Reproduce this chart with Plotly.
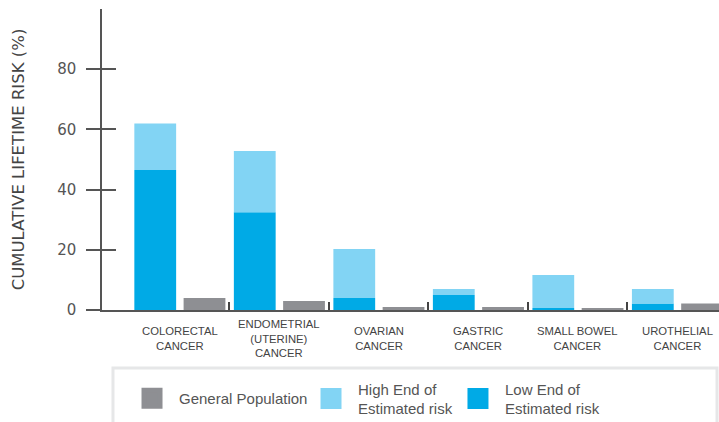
import plotly.graph_objects as go

categories = ["COLORECTAL<br>CANCER", "ENDOMETRIAL<br>(UTERINE)<br>CANCER", "OVARIAN<br>CANCER",
              "GASTRIC<br>CANCER", "SMALL BOWEL<br>CANCER", "UROTHELIAL<br>CANCER"]
low_end = [46.5, 32.5, 4.0, 5.0, 0.7, 2.2]
high_end = [62.0, 52.8, 20.3, 7.0, 11.6, 7.0]
general_population = [4.0, 3.0, 1.0, 1.0, 0.6, 2.2]
y_ticks = [0, 20, 40, 60, 80]
legend_names = ["General Population", "High End of<br>Estimated risk", "Low End of<br>Estimated risk"]

GRAY = "#8E8F93"
LIGHT = "#82D4F4"
DARK = "#00AAE6"
FONT = "Liberation Sans, Arial, sans-serif"

idx = list(range(len(categories)))
bw = 0.42

fig = go.Figure()
fig.add_trace(go.Bar(x=idx, y=low_end, width=bw, offset=-0.455, marker=dict(color=DARK, line=dict(width=0)),
                     showlegend=False, hoverinfo="skip"))
fig.add_trace(go.Bar(x=idx, y=[h - l for h, l in zip(high_end, low_end)], base=low_end, width=bw, offset=-0.455,
                     marker=dict(color=LIGHT, line=dict(width=0)), showlegend=False, hoverinfo="skip"))
fig.add_trace(go.Bar(x=idx, y=general_population, width=bw, offset=0.04, marker=dict(color=GRAY, line=dict(width=0)),
                     showlegend=False, hoverinfo="skip"))

legend_ids = ["legend", "legend2", "legend3"]
for name, col, lid in zip(legend_names, [GRAY, LIGHT, DARK], legend_ids):
    fig.add_trace(go.Scatter(x=[None], y=[None], mode="markers", name=name, yaxis="y2", legend=lid,
                             marker=dict(symbol="square", size=16, color=col, line=dict(color=col, width=5))))

for i, cat in enumerate(categories):
    fig.add_annotation(x=i, y=-0.095, xref="x", yref="paper", text=cat, showarrow=False,
                       xanchor="center", yanchor="middle",
                       font=dict(family=FONT, size=11.3, color="#444444"))

fig.add_shape(type="rect", xref="paper", yref="paper", x0=0.0178, x1=0.9968, y0=-0.1927, y1=-0.45,
              line=dict(color="#E6E7E8", width=3), fillcolor="rgba(0,0,0,0)", layer="above")

leg_common = dict(orientation="h", xanchor="left", yanchor="middle", y=-0.294,
                  bgcolor="rgba(0,0,0,0)", borderwidth=0, itemwidth=44,
                  font=dict(family=FONT, size=15, color="#555555"), itemsizing="trace")

fig.update_layout(
    width=719, height=422,
    margin=dict(l=102, r=0, t=9, b=112, autoexpand=False),
    paper_bgcolor="white", plot_bgcolor="white",
    barmode="overlay",
    font=dict(family=FONT, color="#555555"),
    xaxis=dict(range=[-0.78, 5.42], showgrid=False, zeroline=False, showticklabels=False,
               showline=True, linecolor="#555555", linewidth=2, ticks="",
               minor=dict(ticks="inside", tickvals=[i + 0.5 for i in idx[:-1]], ticklen=8,
                          tickcolor="#444444", tickwidth=1.5)),
    yaxis=dict(range=[0, 100], showgrid=False, zeroline=False, tickvals=y_ticks,
               showline=True, linecolor="#555555", linewidth=1.5,
               ticks="outside", ticklen=14, tickwidth=1.5, tickcolor="#555555",
               ticklabelstandoff=7,
               tickfont=dict(family="DejaVu Sans, sans-serif", size=15, color="#555555"),
               title=dict(text="CUMULATIVE LIFETIME RISK (%)", standoff=28,
                          font=dict(family="DejaVu Sans, sans-serif", size=16.5, color="#444444"))),
    yaxis2=dict(overlaying="y", matches="y", range=[0, 100], side="left", anchor="x",
                showgrid=False, zeroline=False, showline=False, tickvals=y_ticks,
                showticklabels=False, ticks="inside", ticklen=14, tickwidth=1.5, tickcolor="#555555"),
    legend=dict(x=0.0373, **leg_common),
    legend2=dict(x=0.3274, **leg_common),
    legend3=dict(x=0.5656, **leg_common),
)

fig.write_html("out.html", post_script="document.body.style.margin='0';",
               config={"displayModeBar": False})
